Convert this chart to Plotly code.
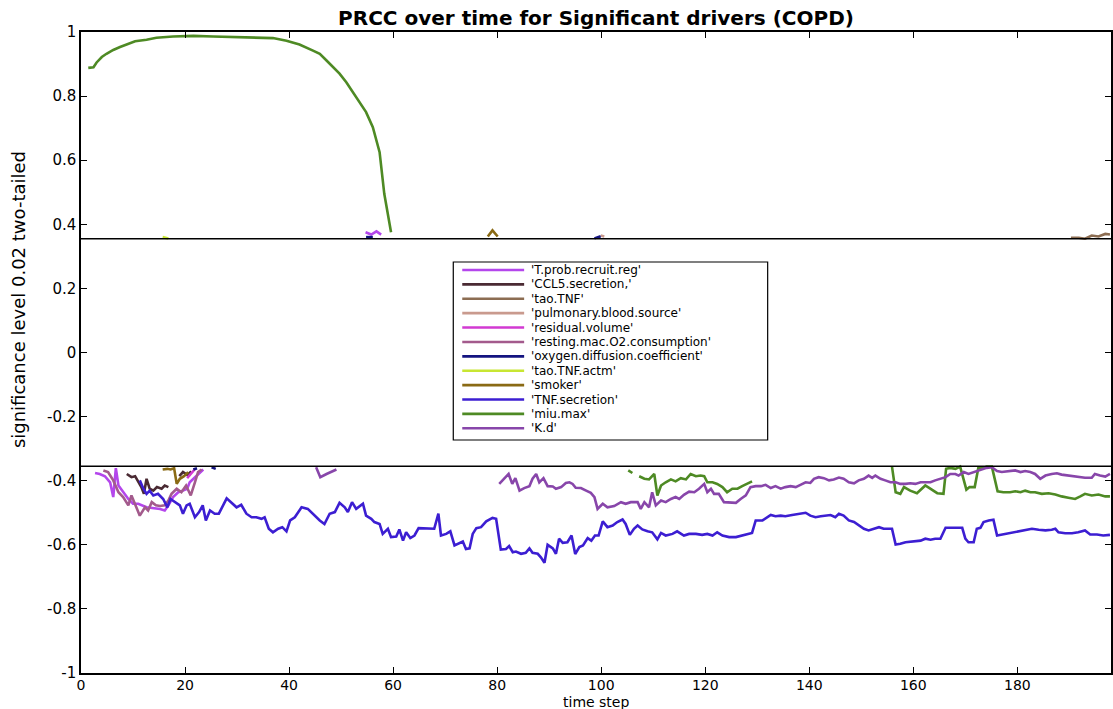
import plotly.graph_objects as go

# ---------------- data ----------------
threshold = 0.355
N = None

t_prob = [2.7, 3.6, 4.6, 5.6, 6.2, 6.7, 7.2, 8.1, 9.1, 10.0, 11.0, 12.6, 13.9, 15.2, 16.1, 16.8, 17.7, 18.7, 19.6, 20.4, 20.9, 21.9, 22.8, 23.5, N,
          54.7, 55.8, 56.8, 57.7]
y_prob = [-0.376, -0.379, -0.386, -0.405, -0.451, -0.361, -0.415, -0.436, -0.457, -0.472, -0.472, -0.483, -0.486, -0.488, -0.493, -0.477, -0.451, -0.436, -0.431, -0.425, -0.405, -0.389, -0.373, -0.365, N,
          0.375, 0.368, 0.378, 0.368]

t_ccl5 = [8.8, 9.7, 10.4, 11.0, 11.6, 12.1, 12.6, 13.2, 13.9, 14.6, 15.5, 16.1, 16.8, N, 18.9, 19.6, 20.4, 21.2]
y_ccl5 = [-0.379, -0.389, -0.386, -0.405, -0.420, -0.441, -0.394, -0.425, -0.431, -0.420, -0.425, -0.415, -0.420, N, -0.386, -0.373, -0.382, -0.371]

t_taotnf = [190.3, 191.8, 193.0, 194.3, 195.6, 196.9, 197.8]
y_taotnf = [0.358, 0.358, 0.355, 0.365, 0.362, 0.370, 0.368]

t_pulm = [99.9, 100.6]
y_pulm = [0.365, 0.362]

t_resid = [20.4, 21.2, 22.0]
y_resid = [-0.392, -0.376, -0.362]

t_rest = [4.3, 5.2, 6.2, 7.2, 8.1, 9.1, 9.7, 10.4, 11.3, 12.3, 12.9, 13.6, 14.4, 15.2, 16.1, 16.8, 17.4, 18.4, 19.3, 20.2, 21.1, 21.9, 22.5, 23.2]
y_rest = [-0.368, -0.373, -0.399, -0.436, -0.451, -0.477, -0.446, -0.472, -0.509, -0.483, -0.493, -0.467, -0.477, -0.479, -0.477, -0.462, -0.441, -0.425, -0.436, -0.415, -0.446, -0.405, -0.373, -0.365]

t_oxy = [21.6, 22.3, N, 25.1, 25.9, N, 54.8, 56.1, N, 98.7, 99.9]
y_oxy = [-0.365, -0.361, N, -0.358, -0.363, N, 0.360, 0.360, N, 0.356, 0.363]

t_actm = [15.7, 16.8]
y_actm = [0.360, 0.356]

t_smoker = [15.7, 16.6, 17.2, 17.9, 18.4, 19.0, 19.8, 20.6, N, 78.2, 79.1, 80.1]
y_smoker = [-0.365, -0.363, -0.365, -0.361, -0.410, -0.394, -0.386, -0.373, N, 0.362, 0.381, 0.362]

t_tnf = [11.3, 12.0, 12.6, 13.2, 13.9, 14.8, 15.8, 16.6, 17.2, 18.0, 19.0, 19.6, 20.3, 20.9, 21.9, 22.7, 23.4, 24.0, 24.8, 25.7,
         26.5, 28.0, 28.9, 29.9, 30.8, 31.8, 32.8, 33.7, 34.7, 35.3, 36.1, 36.9, 37.9, 38.7, 39.5, 40.2, 41.1, 42.4, 43.6, 44.9,
         45.9, 46.8, 47.8, 48.8, 49.7, 50.7, 51.3, 52.1, 52.9, 54.2, 54.8, 55.8, 56.4, 57.4, 58.0, 59.0, 59.6, 60.6, 61.2, 61.9,
         62.5, 63.3, 64.1, 64.9, 66.4, 67.9, 68.7, 69.2, 70.2, 71.0, 71.8, 72.7, 73.4, 74.0, 74.7, 75.3, 76.0, 76.9, 77.9, 79.1,
         79.8, 80.7, 81.7, 82.3, 83.0, 83.6, 84.6, 85.5, 86.2, 86.8, 87.8, 88.4, 89.1, 89.7, 90.7, 91.3, 91.9, 92.6, 93.5, 94.3,
         95.0, 95.8, 96.5, 97.4, 98.1, 98.8, 99.5, 100.3, 101.2, 102.2, 103.1, 104.1, 104.7, 105.5, 106.3, 107.0, 107.9, 108.9, 109.8, 110.8,
         111.5, 112.4, 113.7, 114.6, 115.9, 116.9, 118.2, 119.4, 120.4, 121.4, 122.3, 123.3, 124.6, 125.9, 127.1, 128.1, 129.0, 129.7, 131.0, 132.6,
         133.5, 134.5, 135.4, 136.7, 138.0, 139.3, 140.2, 141.2, 142.2, 143.1, 144.1, 145.0, 145.7, 146.6, 147.6, 148.6, 149.5, 150.5, 151.4, 152.4,
         153.4, 154.3, 155.9, 156.6, 157.5, 158.5, 160.4, 161.4, 162.3, 163.3, 164.2, 165.2, 166.2, 167.1, 169.4, 170.0, 170.6, 171.6, 172.2, 172.9,
         173.5, 174.5, 175.4, 176.1, 177.0, 178.3, 179.6, 181.2, 182.8, 184.1, 185.4, 186.6, 187.3, 187.9, 189.2, 190.5, 191.7, 193.0, 194.0, 195.3,
         196.5, 197.8]
y_tnf = [-0.399, -0.425, -0.441, -0.431, -0.446, -0.441, -0.457, -0.483, -0.457, -0.467, -0.477, -0.503, -0.477, -0.472, -0.514, -0.498, -0.477, -0.524, -0.493, -0.503,
         -0.503, -0.455, -0.467, -0.483, -0.475, -0.503, -0.514, -0.514, -0.519, -0.514, -0.550, -0.561, -0.550, -0.545, -0.558, -0.524, -0.514, -0.483, -0.488, -0.509,
         -0.524, -0.535, -0.503, -0.498, -0.469, -0.483, -0.498, -0.467, -0.488, -0.472, -0.509, -0.519, -0.529, -0.535, -0.566, -0.550, -0.576, -0.574, -0.552, -0.587,
         -0.561, -0.579, -0.571, -0.548, -0.548, -0.550, -0.503, -0.571, -0.566, -0.558, -0.602, -0.594, -0.590, -0.613, -0.611, -0.566, -0.548, -0.545, -0.527, -0.516,
         -0.519, -0.615, -0.613, -0.604, -0.623, -0.621, -0.628, -0.625, -0.611, -0.625, -0.628, -0.639, -0.656, -0.600, -0.611, -0.628, -0.581, -0.594, -0.592, -0.571,
         -0.629, -0.607, -0.602, -0.579, -0.587, -0.571, -0.571, -0.527, -0.545, -0.540, -0.529, -0.521, -0.535, -0.569, -0.550, -0.540, -0.552, -0.558, -0.561, -0.583,
         -0.563, -0.571, -0.566, -0.558, -0.571, -0.566, -0.566, -0.569, -0.566, -0.571, -0.561, -0.571, -0.576, -0.576, -0.571, -0.566, -0.563, -0.524, -0.524, -0.507,
         -0.511, -0.509, -0.511, -0.507, -0.503, -0.500, -0.509, -0.514, -0.511, -0.509, -0.507, -0.514, -0.503, -0.509, -0.524, -0.529, -0.540, -0.550, -0.555, -0.550,
         -0.545, -0.550, -0.550, -0.599, -0.597, -0.592, -0.589, -0.587, -0.581, -0.584, -0.581, -0.581, -0.547, -0.547, -0.547, -0.581, -0.592, -0.592, -0.550, -0.547,
         -0.529, -0.524, -0.522, -0.571, -0.568, -0.566, -0.561, -0.555, -0.550, -0.553, -0.555, -0.553, -0.550, -0.561, -0.564, -0.564, -0.561, -0.555, -0.568, -0.568,
         -0.571, -0.569]

t_miu = [1.4, 2.4, 3.0, 4.0, 4.9, 6.2, 7.5, 8.8, 10.4, 12.6, 14.5, 17.7, 21.6, 25.4, 31.8, 36.9, 39.5, 42.0, 44.6, 45.9,
         47.2, 48.4, 49.7, 51.0, 52.3, 53.5, 54.8, 56.1, 57.4, 58.3, 59.6, N,
         105.2, 106.0, N,
         107.3, 108.3, 109.2, 110.2, 110.8, 111.5, 112.4, 113.4, 114.3, 115.3, 116.3, 117.2, 118.2, 119.1, 119.8, 120.4, 121.4, 122.3, 123.3, 124.2,
         125.2, 126.2, 127.1, 128.1, 129.0, N,
         155.9, 156.6, 157.5, 158.2, 159.4, 160.7, 162.3, 163.3, 164.6, 165.8, 166.3, 167.1, 168.1, 169.0, 170.2, 170.8, 171.8, 172.5, 173.5, 174.1,
         175.1, 176.2, 177.3, 178.6, 179.6, 180.6, 181.5, 182.5, 183.4, 184.7, 186.0, 187.3, 188.5, 189.8, 191.1, 192.1, 193.0, 194.3, 195.6, 196.9, 197.8]
y_miu = [0.888, 0.890, 0.905, 0.922, 0.932, 0.944, 0.953, 0.961, 0.971, 0.976, 0.982, 0.986, 0.988, 0.986, 0.984, 0.981, 0.973, 0.961, 0.942, 0.932,
         0.911, 0.890, 0.870, 0.843, 0.812, 0.781, 0.750, 0.703, 0.625, 0.495, 0.375, N,
         -0.368, -0.376, N,
         -0.386, -0.394, -0.396, -0.379, -0.446, -0.415, -0.405, -0.396, -0.402, -0.392, -0.396, -0.379, -0.386, -0.384, -0.386, -0.405, -0.405, -0.410, -0.420, -0.436,
         -0.425, -0.425, -0.417, -0.410, -0.402, N,
         -0.356, -0.436, -0.441, -0.420, -0.431, -0.439, -0.415, -0.425, -0.439, -0.441, -0.363, -0.360, -0.363, -0.356, -0.428, -0.420, -0.420, -0.360, -0.360, -0.356,
         -0.356, -0.433, -0.436, -0.436, -0.433, -0.436, -0.431, -0.436, -0.436, -0.441, -0.439, -0.443, -0.449, -0.453, -0.457, -0.449, -0.441, -0.446, -0.443, -0.449, -0.449]

t_kd = [45.2, 46.0, 47.2, 49.1, N,
        80.4, 81.4, 82.2, 82.9, 83.5, 84.3, 85.2, 86.2, 86.8, 87.5, 88.1, 88.9, 89.7, 90.7, 91.3, 92.3, 93.2, 93.9, 94.5, 95.1,
        96.1, 97.1, 98.0, 98.7, 99.3, 100.3, 101.2, 102.5, 103.8, 104.7, 105.7, 107.0, 107.6, 108.3, 109.2, 109.8, 110.5, 111.5, 112.4, 113.4,
        114.3, 115.0, 115.9, 116.9, 117.9, 118.8, 119.8, 120.4, 121.1, 121.7, 122.6, 123.6, 124.6, 125.9, 126.8, 127.8, 128.7, 129.7, 130.7, 131.6,
        132.6, 133.5, 134.5, 135.4, 136.4, 137.4, 138.3, 139.3, 140.2, 140.9, 141.8, 142.8, 143.8, 144.7, 145.7, 146.6, 147.6, 148.6, 149.5, 150.5,
        151.4, 152.1, 152.7, 153.7, 154.6, 155.6, 156.6, 157.5, 158.5, 159.4, 160.4, 161.4, 162.3, 163.3, 164.2, 165.2, 166.2, 167.1, 168.1, 168.7,
        169.7, 170.6, 171.6, 172.5, 173.2, 174.1, 175.1, 176.1, 177.0, 178.3, 179.6, 180.6, 181.5, 182.5, 183.4, 184.4, 185.4, 186.6, 187.6, 188.5,
        189.8, 191.1, 192.1, 193.0, 194.3, 194.9, 195.9, 196.9, 197.8]
y_kd = [-0.358, -0.389, -0.379, -0.365, N,
        -0.410, -0.394, -0.379, -0.410, -0.392, -0.431, -0.423, -0.417, -0.394, -0.379, -0.405, -0.392, -0.417, -0.418, -0.425, -0.420, -0.407, -0.405, -0.410, -0.422,
        -0.423, -0.431, -0.438, -0.451, -0.488, -0.472, -0.483, -0.479, -0.467, -0.472, -0.467, -0.467, -0.488, -0.467, -0.483, -0.436, -0.477, -0.462, -0.467, -0.457,
        -0.451, -0.457, -0.444, -0.434, -0.436, -0.425, -0.410, -0.436, -0.425, -0.441, -0.441, -0.467, -0.467, -0.469, -0.457, -0.446, -0.420, -0.417, -0.417, -0.413,
        -0.423, -0.417, -0.425, -0.420, -0.417, -0.420, -0.413, -0.405, -0.407, -0.394, -0.389, -0.392, -0.399, -0.396, -0.390, -0.394, -0.405, -0.408, -0.399, -0.394,
        -0.384, -0.391, -0.384, -0.394, -0.399, -0.405, -0.405, -0.410, -0.410, -0.408, -0.410, -0.405, -0.405, -0.405, -0.399, -0.394, -0.389, -0.379, -0.379, -0.384,
        -0.373, -0.379, -0.373, -0.368, -0.363, -0.360, -0.358, -0.370, -0.373, -0.370, -0.368, -0.373, -0.370, -0.373, -0.379, -0.394, -0.384, -0.379, -0.377, -0.381,
        -0.384, -0.387, -0.391, -0.391, -0.391, -0.379, -0.384, -0.387, -0.379]

series_names = ["'T.prob.recruit.reg'", "'CCL5.secretion,'", "'tao.TNF'", "'pulmonary.blood.source'",
                "'residual.volume'", "'resting.mac.O2.consumption'", "'oxygen.diffusion.coefficient'",
                "'tao.TNF.actm'", "'smoker'", "'TNF.secretion'", "'miu.max'", "'K.d'"]
series_t = [t_prob, t_ccl5, t_taotnf, t_pulm, t_resid, t_rest, t_oxy, t_actm, t_smoker, t_tnf, t_miu, t_kd]
series_y = [y_prob, y_ccl5, y_taotnf, y_pulm, y_resid, y_rest, y_oxy, y_actm, y_smoker, y_tnf, y_miu, y_kd]
series_colors = ["#b446ec", "#4a2a33", "#8c6d52", "#c99a8e", "#d23ad2", "#a35a8c", "#141480",
                 "#c8e632", "#8a6a14", "#3c1ed2", "#4e8a24", "#8846aa"]

x_ticks = [0, 20, 40, 60, 80, 100, 120, 140, 160, 180]
y_ticks = [-1, -0.8, -0.6, -0.4, -0.2, 0, 0.2, 0.4, 0.6, 0.8, 1]
y_tick_text = ["-1", "-0.8", "-0.6", "-0.4", "-0.2", "0", "0.2", "0.4", "0.6", "0.8", "1"]

# ---------------- figure ----------------
W, H = 1113, 709
ML, MR, MT, MB = 81, 0, 32, 36
PW, PH = W - ML - MR, H - MT - MB
FONT = "DejaVu Sans"

def px_x(px):
    return (px - ML) / PW

def px_y(py):
    return (H - MB - py) / PH

fig = go.Figure()
for name, tt, yy, col in zip(series_names, series_t, series_y, series_colors):
    fig.add_trace(go.Scatter(x=tt, y=yy, mode="lines", name=name,
                             line=dict(color=col, width=2.6), connectgaps=False,
                             showlegend=False))

shapes = []
# significance threshold lines
for s in (threshold, -threshold):
    shapes.append(dict(type="line", xref="paper", yref="y", x0=0, x1=1, y0=s, y1=s,
                       line=dict(color="black", width=1.5)))

# legend box (drawn manually to match the compact MATLAB legend)
lx0, lx1, ly0, ly1 = 454, 769, 262, 440
shapes.append(dict(type="rect", xref="paper", yref="paper",
                   x0=px_x(lx0), x1=px_x(lx1), y0=px_y(ly1), y1=px_y(ly0),
                   line=dict(color="black", width=1.2), fillcolor="white", layer="above"))
annotations = []
row0, drow = 270.0, 14.39
for i, (name, col) in enumerate(zip(series_names, series_colors)):
    yy = row0 + i * drow
    shapes.append(dict(type="line", xref="paper", yref="paper",
                       x0=px_x(463), x1=px_x(525), y0=px_y(yy), y1=px_y(yy),
                       line=dict(color=col, width=2.6), layer="above"))
    annotations.append(dict(xref="paper", yref="paper", x=px_x(530), y=px_y(yy),
                            text=name, showarrow=False, xanchor="left", yanchor="middle",
                            font=dict(family=FONT, size=12, color="black")))

annotations.append(dict(xref="paper", yref="paper", x=0.5, y=px_y(702), text="time step",
                        showarrow=False, xanchor="center", yanchor="middle",
                        font=dict(family=FONT, size=14, color="black")))
annotations.append(dict(xref="paper", yref="paper", x=px_x(18), y=px_y(300),
                        text="significance level 0.02 two-tailed", textangle=-90,
                        showarrow=False, xanchor="center", yanchor="middle",
                        font=dict(family=FONT, size=18, color="black")))

fig.update_layout(
    width=W, height=H,
    margin=dict(l=ML, r=MR, t=MT, b=MB),
    paper_bgcolor="white", plot_bgcolor="white",
    title=dict(text="<b>PRCC over time for Significant drivers (COPD)</b>",
               x=0.5, xref="paper", xanchor="center",
               y=1 - 18 / H, yref="container", yanchor="middle",
               font=dict(family=FONT, size=20, color="black")),
    showlegend=False,
    shapes=shapes,
    annotations=annotations,
    font=dict(family=FONT, size=15, color="black"),
)
fig.update_xaxes(range=[0, 198], tickvals=x_ticks, ticks="inside", ticklen=6, tickwidth=1.2,
                 tickcolor="black", showline=True, linecolor="black", linewidth=1.5,
                 mirror="ticks", showgrid=False, zeroline=False, ticklabelstandoff=-2,
                 tickfont=dict(family=FONT, size=14, color="black"))
fig.update_yaxes(range=[-1, 1], tickvals=y_ticks, ticktext=y_tick_text, ticks="inside",
                 ticklen=6, tickwidth=1.2, tickcolor="black", showline=True,
                 linecolor="black", linewidth=1.5, mirror="ticks", showgrid=False,
                 zeroline=False, tickfont=dict(family=FONT, size=15, color="black"))

fig.write_html("out.html")
